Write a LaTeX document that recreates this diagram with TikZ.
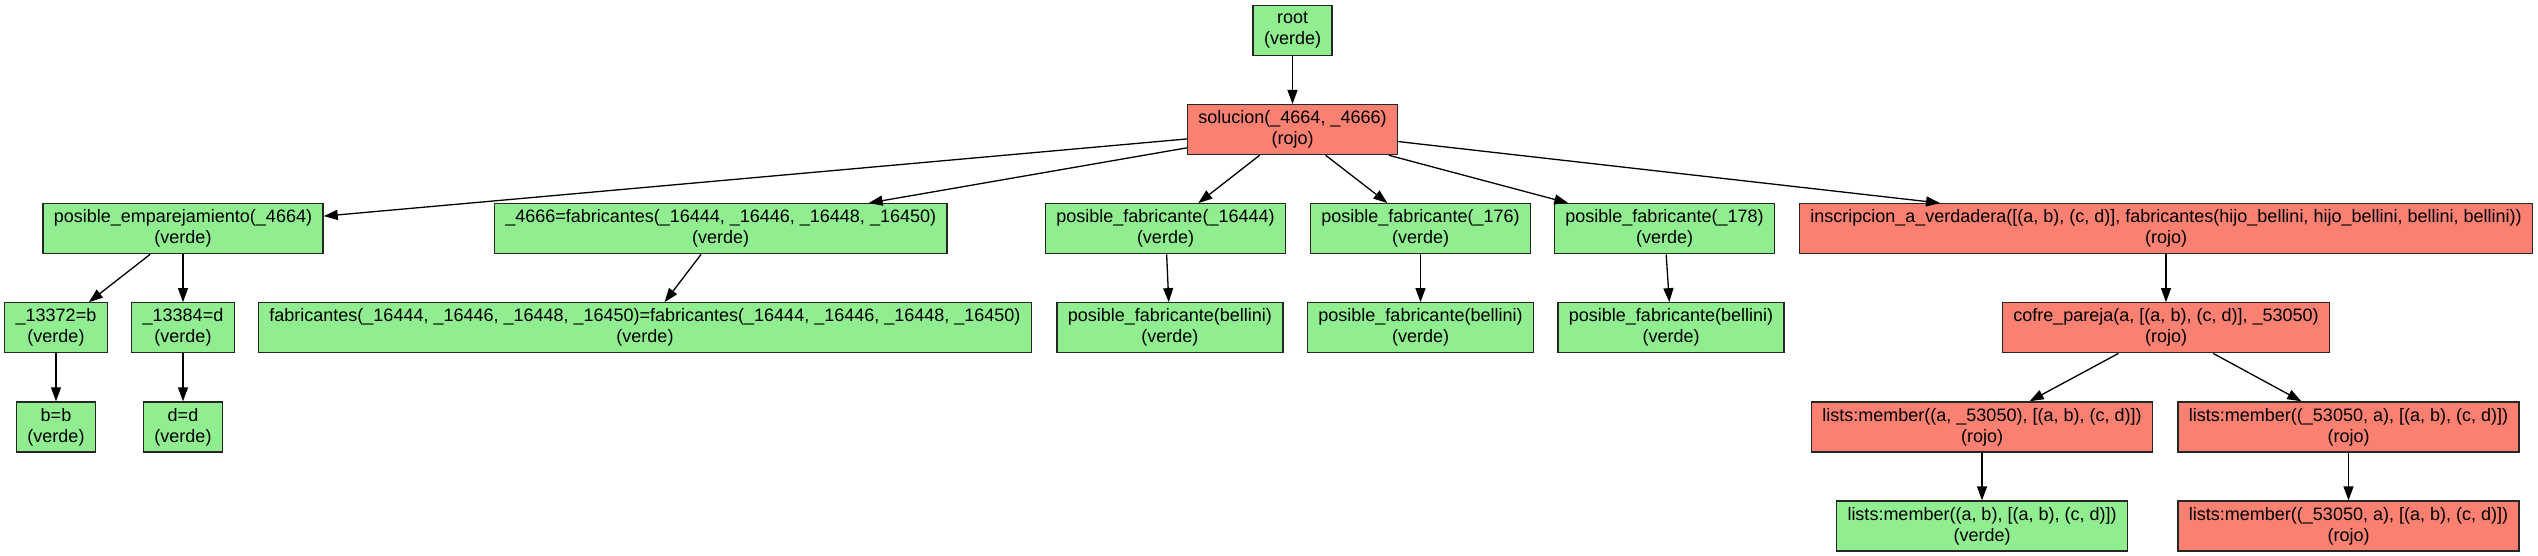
\documentclass[tikz,border=0pt]{standalone}
\usepackage{fontspec}
\setmainfont{Liberation Sans}
\usepackage{xcolor}
\definecolor{verdeclaro}{HTML}{90EE90}
\definecolor{salmon}{HTML}{FA8072}
\usetikzlibrary{positioning,arrows.meta}

\begin{document}
\begin{tikzpicture}[node distance=47.8pt,
    box/.style={draw=black!85, rectangle, align=center, minimum height=50pt,
      inner xsep=11pt, inner ysep=0pt, font=\fontsize{18}{21}\selectfont},
    verde/.style={box, fill=verdeclaro},
    rojo/.style={box, fill=salmon},
    >={Triangle[length=14pt,width=10pt]}, line width=1.3pt]
  \useasboundingbox (0,0) rectangle (2538pt,-555pt);

  \node[verde] (root) at (1292.5pt,-30.5pt) {root\\(verde)};
  \node[rojo, below=of root] (sol) {solucion(\_4664, \_4666)\\(rojo)};

  \node[verde, below=of sol, xshift=-1109.5pt] (pe) {posible\_emparejamiento(\_4664)\\(verde)};
  \node[verde, below=of sol, xshift=-571.8pt] (fab) {\_4666=fabricantes(\_16444, \_16446, \_16448, \_16450)\\(verde)};
  \node[verde, below=of sol, xshift=-127pt] (pf1) {posible\_fabricante(\_16444)\\(verde)};
  \node[verde, below=of sol, xshift=128pt] (pf2) {posible\_fabricante(\_176)\\(verde)};
  \node[verde, below=of sol, xshift=372pt] (pf3) {posible\_fabricante(\_178)\\(verde)};
  \node[rojo, below=of sol, xshift=873.5pt] (ins) {inscripcion\_a\_verdadera([(a, b), (c, d)], fabricantes(hijo\_bellini, hijo\_bellini, bellini, bellini))\\(rojo)};

  \node[verde, below=of pe, xshift=-127pt] (v1) {\_13372=b\\(verde)};
  \node[verde, below=of pe] (v2) {\_13384=d\\(verde)};
  \node[verde, below=of fab, xshift=-75.7pt] (feq) {fabricantes(\_16444, \_16446, \_16448, \_16450)=fabricantes(\_16444, \_16446, \_16448, \_16450)\\(verde)};
  \node[verde, below=of pf1, xshift=4.4pt] (pb1) {posible\_fabricante(bellini)\\(verde)};
  \node[verde, below=of pf2] (pb2) {posible\_fabricante(bellini)\\(verde)};
  \node[verde, below=of pf3, xshift=6.5pt] (pb3) {posible\_fabricante(bellini)\\(verde)};
  \node[rojo, below=of ins] (cp) {cofre\_pareja(a, [(a, b), (c, d)], \_53050)\\(rojo)};

  \node[verde, below=of v1] (bb) {b=b\\(verde)};
  \node[verde, below=of v2] (dd) {d=d\\(verde)};
  \node[rojo, below=of cp, xshift=-184pt] (lm1) {lists:member((a, \_53050), [(a, b), (c, d)])\\(rojo)};
  \node[rojo, below=of cp, xshift=182.5pt] (lm2) {lists:member((\_53050, a), [(a, b), (c, d)])\\(rojo)};

  \node[verde, below=of lm1] (lm3) {lists:member((a, b), [(a, b), (c, d)])\\(verde)};
  \node[rojo, below=of lm2] (lm4) {lists:member((\_53050, a), [(a, b), (c, d)])\\(rojo)};

  \draw[->]
    (root) edge (sol)
    (sol) edge (pe) edge (fab) edge (pf1) edge (pf2) edge (pf3) edge (ins)
    (pe) edge (v1) edge (v2)
    (fab) edge (feq)
    (pf1) edge (pb1)
    (pf2) edge (pb2)
    (pf3) edge (pb3)
    (ins) edge (cp)
    (v1) edge (bb)
    (v2) edge (dd)
    (cp) edge (lm1) edge (lm2)
    (lm1) edge (lm3)
    (lm2) edge (lm4);
\end{tikzpicture}
\end{document}
